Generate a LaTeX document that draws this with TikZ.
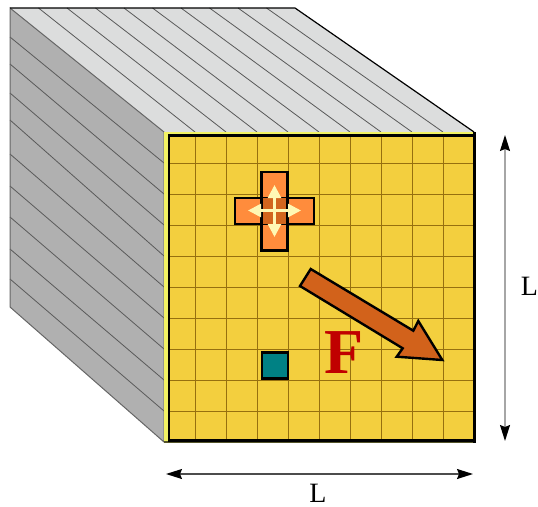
\documentclass[tikz,border=0pt]{standalone}
\usepackage{fontspec}
\setmainfont{Liberation Serif}
\usetikzlibrary{arrows.meta}
\definecolor{topface}{HTML}{DCDDDD}
\definecolor{sideface}{HTML}{B0B0B0}
\definecolor{frontface}{HTML}{F3CF3E}
\definecolor{edgeyellow}{HTML}{F2F264}
\definecolor{gridline}{HTML}{96700F}
\definecolor{crossfill}{HTML}{FF8C3C}
\definecolor{crosscore}{HTML}{D2651E}
\definecolor{cream}{HTML}{FFF8B4}
\definecolor{bigarrow}{HTML}{D2621B}
\definecolor{forcered}{HTML}{C00000}
\definecolor{tealbox}{HTML}{008184}
\definecolor{olivebase}{HTML}{55552A}
\tikzset{
  stripe/.style={draw=black!65,line width=0.8pt},
  faceedge/.style={draw=black!60,line width=1pt,line join=miter},
  gridrule/.style={draw=gridline,line width=1pt},
  crossarm/.style={draw=black,line width=2.6pt,fill=crossfill},
  dimv/.style={draw=black!35,line width=1.3pt,{Stealth[length=16pt,width=10pt,inset=2pt,black]}-{Stealth[length=16pt,width=10pt,inset=2pt,black]}},
  dimh/.style={draw=black!70,line width=1.3pt,{Stealth[length=16pt,width=10pt,inset=2pt,black]}-{Stealth[length=16pt,width=10pt,inset=2pt,black]}},
  dimlabel/.style={font=\fontsize{28}{28}\selectfont,text=black,inner sep=0pt},
  spreadarrow/.style={draw=cream,line width=2.6pt,-{Triangle[length=13pt,width=13pt,cream]}}
}
\begin{document}
\begin{tikzpicture}[x=1pt,y=-1pt]
\useasboundingbox (0,0) rectangle (538,506);
% top and side faces
\fill[topface] (10,8) -- (295,8) -- (474,132) -- (164,132) -- cycle;
\fill[sideface] (10,8) -- (164,132) -- (164,442) -- (10,307) -- cycle;
\foreach \k in {1,...,9}{
  \draw[stripe] ({10+28.5*\k},8) -- ({164+31*\k},132);
}
\foreach \k/\ya in {1/37,2/64,3/93,4/120,5/154,6/186,7/217,8/249,9/279}{
  \draw[stripe] (10,\ya) -- (164,{132+31*\k});
}
\draw[faceedge] (164,442) -- (164,132) -- (10,8) -- (10,307) -- (164,442);
\draw[draw=black,line width=1.2pt] (10,8) -- (295,8) -- (474,132);
% front face
\fill[edgeyellow] (164,132) rectangle (475,443);
\fill[frontface] (168,135) rectangle (473,441);
\foreach \k in {1,...,9}{
  \draw[gridrule] ({164+31*\k},135) -- ({164+31*\k},441);
  \draw[gridrule] (168,{132+31*\k}) -- (473,{132+31*\k});
}
\fill[olivebase] (164,441) rectangle (475.5,443);
\draw[black,line width=2.6pt] (169,135.7) rectangle (474,440.3);
\draw[black,line width=3pt] (474,132) -- (474,443);
% cross
\draw[crossarm] (261.5,172) rectangle (287.5,250.5);
\draw[crossarm] (235,198) rectangle (314,224);
\fill[crosscore] (261.5,198) rectangle (287.5,224);
\draw[black,line width=2.6pt] (261.5,198) -- (261.5,224) (287.5,198) -- (287.5,224);
\coordinate (cc) at (274.5,210.5);
\coordinate (cu) at (274.5,185);
\coordinate (cd) at (274.5,237);
\coordinate (cl) at (248,210.5);
\coordinate (cr) at (301,210.5);
\draw[spreadarrow] (cc) -- (cu);
\draw[spreadarrow] (cc) -- (cd);
\draw[spreadarrow] (cc) -- (cl);
\draw[spreadarrow] (cc) -- (cr);
% force arrow
\draw[draw=black,line width=2.4pt,fill=bigarrow,line join=miter]
  (310.7,269) -- (300,286) -- (402.7,348.3) -- (396.7,356.7) -- (442.3,360)
  -- (418.3,321) -- (413.3,330.7) -- cycle;
% teal square
\draw[black,line width=2.6pt,fill=tealbox] (262,352.5) rectangle (288,378.5);
% force label
\node[font=\fontsize{64}{64}\selectfont\bfseries,text=forcered,inner sep=0pt] (force) at (344,352.5) {F};
% dimension arrows
\coordinate (dimtop) at (505,135);
\coordinate (dimbot) at (505,441);
\coordinate (dimleft) at (166,474);
\coordinate (dimright) at (473,474);
\draw[dimv] (dimtop) -- (dimbot);
\draw[dimh] (dimleft) -- (dimright);
\node[dimlabel] (lright) at (529.5,286) {L};
\node[dimlabel] (lbottom) at (318,493.5) {L};
\end{tikzpicture}
\end{document}
